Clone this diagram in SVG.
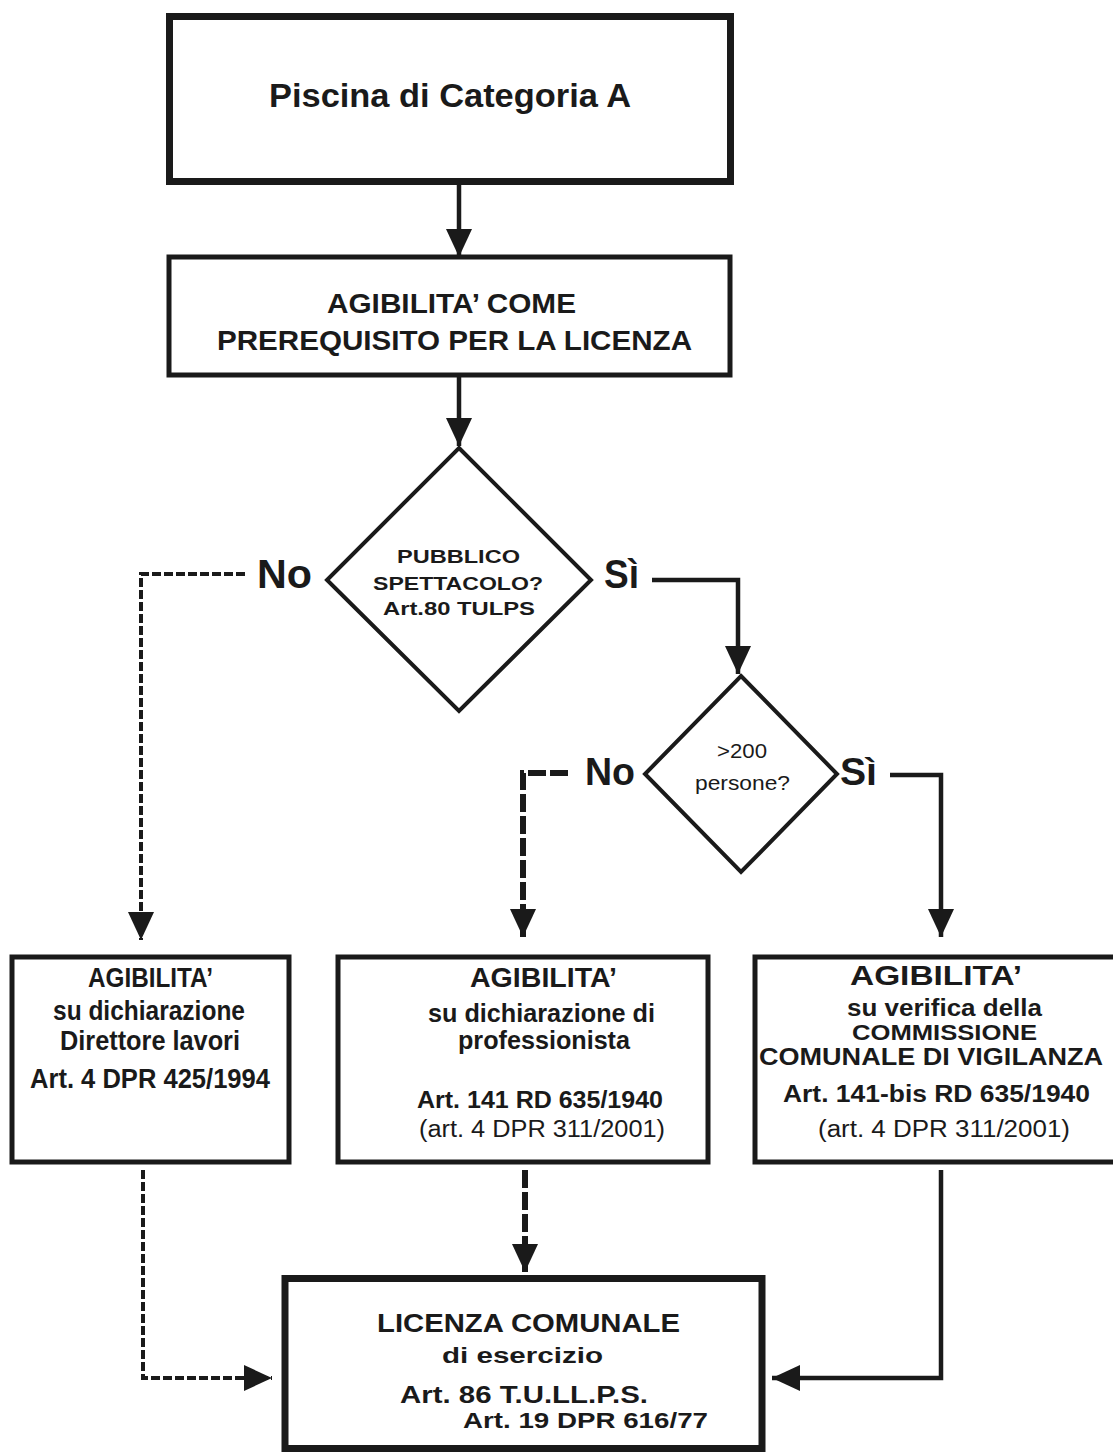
<svg xmlns="http://www.w3.org/2000/svg" width="1113" height="1452" viewBox="0 0 1113 1452">
<style>
text{font-family:"Liberation Sans",Arial,sans-serif;fill:#1a1a1a}
.b{font-weight:bold}
.box{fill:#fff;stroke:#1a1a1a}
.thick{stroke-width:7}
.thin{stroke-width:5}
.dia{fill:#fff;stroke:#1a1a1a;stroke-width:4}
.c{fill:none;stroke:#1a1a1a;stroke-width:4.5}
.ds{stroke-dasharray:9 3;stroke-width:4}
.dl{stroke-dasharray:18 4;stroke-width:6}
</style>
<defs>
<marker id="ah" markerUnits="userSpaceOnUse" markerWidth="28" markerHeight="26" viewBox="0 0 28 26" refX="28" refY="13" orient="auto">
<path d="M0,0 L28,13 L0,26 Z" fill="#1a1a1a"/>
</marker>
</defs>
<rect width="1113" height="1452" fill="#fff"/>

<g id="connectors">
<path class="c" d="M459,185 V257" marker-end="url(#ah)"/>
<path class="c" d="M459,375 V446" marker-end="url(#ah)"/>
<path class="c" d="M652,580 H738 V674" marker-end="url(#ah)"/>
<path class="c ds" d="M245,574 H141 V940" marker-end="url(#ah)"/>
<path class="c dl" d="M568,773 H523 V937" marker-end="url(#ah)"/>
<path class="c" d="M890,775 H941 V937" marker-end="url(#ah)"/>
<path class="c ds" d="M143,1170 V1378 H272" marker-end="url(#ah)"/>
<path class="c dl" d="M525,1170 V1272" marker-end="url(#ah)"/>
<path class="c" d="M941,1170 V1378 H772" marker-end="url(#ah)"/>
</g>

<g id="n_start">
<rect class="box thick" x="169.5" y="16.5" width="561" height="165"/>
<text class="b" x="269" y="107" font-size="34" textLength="362" lengthAdjust="spacingAndGlyphs">Piscina di Categoria A</text>
</g>

<g id="n_agibilita">
<rect class="box thin" x="169" y="257" width="561" height="118"/>
<text class="b" x="327" y="313" font-size="28" textLength="249" lengthAdjust="spacingAndGlyphs">AGIBILITA’ COME</text>
<text class="b" x="217" y="350" font-size="28" textLength="475" lengthAdjust="spacingAndGlyphs">PREREQUISITO PER LA LICENZA</text>
</g>

<g id="n_dec1">
<polygon class="dia" points="459,448 591,580 459,711 327,580"/>
<text class="b" x="397" y="563" font-size="19" textLength="123" lengthAdjust="spacingAndGlyphs">PUBBLICO</text>
<text class="b" x="373" y="590" font-size="19" textLength="170" lengthAdjust="spacingAndGlyphs">SPETTACOLO?</text>
<text class="b" x="383" y="615" font-size="19" textLength="152" lengthAdjust="spacingAndGlyphs">Art.80 TULPS</text>
</g>
<g id="l_no1"><text class="b" x="257" y="588" font-size="40" textLength="55" lengthAdjust="spacingAndGlyphs">No</text></g>
<g id="l_si1"><text class="b" x="604" y="588" font-size="40" textLength="35" lengthAdjust="spacingAndGlyphs">Sì</text></g>

<g id="n_dec2">
<polygon class="dia" points="741,676 837,774 741,872 645,774"/>
<text x="717" y="758" font-size="21" textLength="50" lengthAdjust="spacingAndGlyphs">&gt;200</text>
<text x="695" y="790" font-size="21" textLength="95" lengthAdjust="spacingAndGlyphs">persone?</text>
</g>
<g id="l_no2"><text class="b" x="585" y="785" font-size="38" textLength="50" lengthAdjust="spacingAndGlyphs">No</text></g>
<g id="l_si2"><text class="b" x="840" y="785" font-size="38" textLength="37" lengthAdjust="spacingAndGlyphs">Sì</text></g>

<g id="n_left">
<rect class="box thin" x="12" y="957" width="277" height="205"/>
<text class="b" x="88" y="987" font-size="27" textLength="125" lengthAdjust="spacingAndGlyphs">AGIBILITA’</text>
<text class="b" x="53" y="1020" font-size="27" textLength="192" lengthAdjust="spacingAndGlyphs">su dichiarazione</text>
<text class="b" x="60" y="1050" font-size="27" textLength="180" lengthAdjust="spacingAndGlyphs">Direttore lavori</text>
<text class="b" x="30" y="1088" font-size="27" textLength="240" lengthAdjust="spacingAndGlyphs">Art. 4 DPR 425/1994</text>
</g>

<g id="n_mid">
<rect class="box thin" x="338" y="957" width="370" height="205"/>
<text class="b" x="470" y="987" font-size="28" textLength="147" lengthAdjust="spacingAndGlyphs">AGIBILITA’</text>
<text class="b" x="428" y="1022" font-size="25" textLength="227" lengthAdjust="spacingAndGlyphs">su dichiarazione di</text>
<text class="b" x="458" y="1049" font-size="25" textLength="172" lengthAdjust="spacingAndGlyphs">professionista</text>
<text class="b" x="417" y="1108" font-size="24" textLength="246" lengthAdjust="spacingAndGlyphs">Art. 141 RD 635/1940</text>
<text x="419" y="1137" font-size="23" textLength="246" lengthAdjust="spacingAndGlyphs">(art. 4 DPR 311/2001)</text>
</g>

<g id="n_right">
<rect class="box thin" x="755" y="957" width="370" height="205"/>
<text class="b" x="850" y="985" font-size="28" textLength="172" lengthAdjust="spacingAndGlyphs">AGIBILITA’</text>
<text class="b" x="847" y="1016" font-size="23" textLength="195" lengthAdjust="spacingAndGlyphs">su verifica della</text>
<text class="b" x="852" y="1040" font-size="22" textLength="185" lengthAdjust="spacingAndGlyphs">COMMISSIONE</text>
<text class="b" x="759" y="1065" font-size="24" textLength="344" lengthAdjust="spacingAndGlyphs">COMUNALE DI VIGILANZA</text>
<text class="b" x="783" y="1102" font-size="24" textLength="307" lengthAdjust="spacingAndGlyphs">Art. 141-bis RD 635/1940</text>
<text x="818" y="1137" font-size="23" textLength="252" lengthAdjust="spacingAndGlyphs">(art. 4 DPR 311/2001)</text>
</g>

<g id="n_licenza">
<rect class="box thick" x="285" y="1278.5" width="477" height="170"/>
<text class="b" x="377" y="1332" font-size="25" textLength="303" lengthAdjust="spacingAndGlyphs">LICENZA COMUNALE</text>
<text class="b" x="442" y="1363" font-size="22" textLength="161" lengthAdjust="spacingAndGlyphs">di esercizio</text>
<text class="b" x="400" y="1403" font-size="24" textLength="248" lengthAdjust="spacingAndGlyphs">Art. 86 T.U.LL.P.S.</text>
<text class="b" x="463" y="1428" font-size="22" textLength="245" lengthAdjust="spacingAndGlyphs">Art. 19 DPR 616/77</text>
</g>
</svg>
